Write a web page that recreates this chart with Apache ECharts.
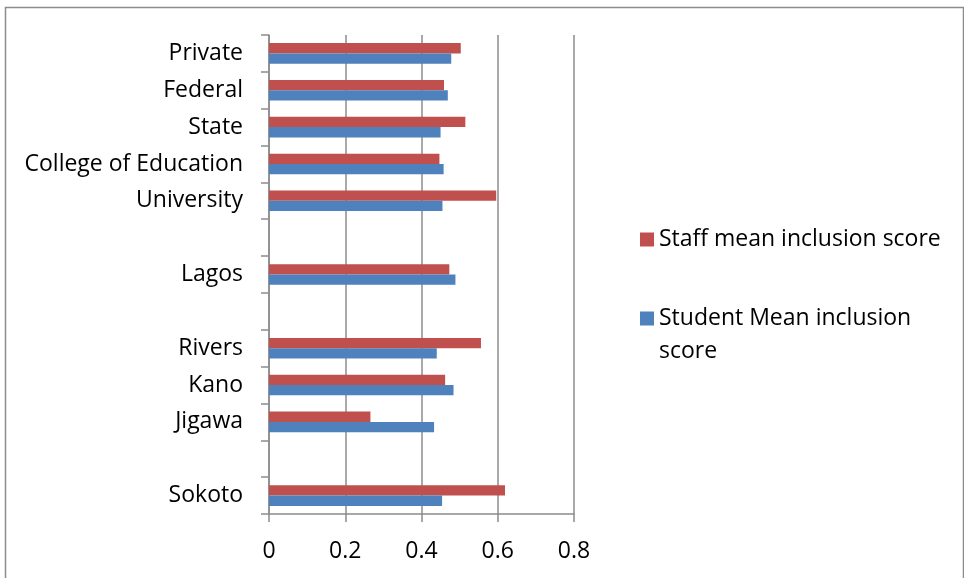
<!DOCTYPE html>
<html>
<head>
<meta charset="utf-8">
<title>Mean inclusion score</title>
<script src="https://cdn.jsdelivr.net/npm/echarts@6/dist/echarts.min.js"></script>
<style>
  html, body { margin: 0; padding: 0; background: #fff; }
  #main { width: 964px; height: 578px; }
</style>
</head>
<body>
<div id="main"></div>
<script>
// categories, top to bottom (blank rows are gaps in the original chart)
var categories = ['Private', 'Federal', 'State', 'College of Education', 'University', ' ',
                  'Lagos', '  ', 'Rivers', 'Kano', 'Jigawa', '   ', 'Sokoto'];

// Staff mean inclusion score
var staffScores = [0.503, 0.459, 0.515, 0.447, 0.596, null, 0.473, null, 0.556, 0.462, 0.266, null, 0.619];

// Student Mean inclusion score
var studentScores = [0.478, 0.469, 0.450, 0.458, 0.455, null, 0.489, null, 0.440, 0.484, 0.433, null, 0.454];

var xTicks = { min: 0, max: 0.8, step: 0.2 };

var fontName = '"Open Sans", "Liberation Sans", sans-serif';
var lineCol = '#8c8c8c';

var myChart = echarts.init(document.getElementById('main'));

var option = {
    backgroundColor: '#fff',
    animation: false,
    textStyle: { fontFamily: fontName, color: '#000' },
    grid: {
        left: 269,
        right: 390,
        top: 35,
        bottom: 64
    },
    legend: {
        orient: 'vertical',
        left: 635,
        top: 218,
        itemWidth: 14,
        itemHeight: 14,
        itemGap: 13,
        icon: 'rect',
        data: ['Staff mean inclusion score', 'Student Mean inclusion score'],
        formatter: function (name) {
            // wrapped label: a blank first line keeps "Student..." level with the marker
            if (name == 'Student Mean inclusion score') {
                return ' \nStudent Mean inclusion\nscore';
            }
            return name;
        },
        textStyle: {
            fontFamily: fontName,
            fontSize: 23,
            lineHeight: 33,
            color: '#000'
        }
    },
    xAxis: {
        type: 'value',
        min: xTicks.min,
        max: xTicks.max,
        interval: xTicks.step,
        axisLine: { show: true, lineStyle: { color: lineCol, width: 1.5 } },
        axisTick: { show: true, length: 8, lineStyle: { color: lineCol, width: 1.5 } },
        axisLabel: { fontFamily: fontName, fontSize: 23, color: '#000', margin: 26 },
        splitLine: { show: true, lineStyle: { color: lineCol, width: 1.5 } }
    },
    yAxis: {
        type: 'category',
        inverse: true,
        data: categories,
        axisLine: { show: true, lineStyle: { color: lineCol, width: 1.5 } },
        axisTick: { show: true, length: 8, lineStyle: { color: lineCol, width: 1.5 } },
        axisLabel: { fontFamily: fontName, fontSize: 23, color: '#000', margin: 26, padding: [4, 0, 0, 0] },
        splitLine: { show: false }
    },
    series: [
        {
            name: 'Staff mean inclusion score',
            type: 'bar',
            data: staffScores,
            itemStyle: { color: '#C0504D' },
            barGap: '0%',
            barCategoryGap: '44%'
        },
        {
            name: 'Student Mean inclusion score',
            type: 'bar',
            data: studentScores,
            itemStyle: { color: '#4F81BD' },
            barGap: '0%',
            barCategoryGap: '44%'
        }
    ],
    graphic: [
        {
            type: 'rect',
            left: 3,
            top: 5,
            silent: true,
            shape: { width: 958, height: 600 },
            style: { fill: null, stroke: '#8c8c8c', lineWidth: 1.5 }
        }
    ]
};

myChart.setOption(option);
</script>
</body>
</html>
